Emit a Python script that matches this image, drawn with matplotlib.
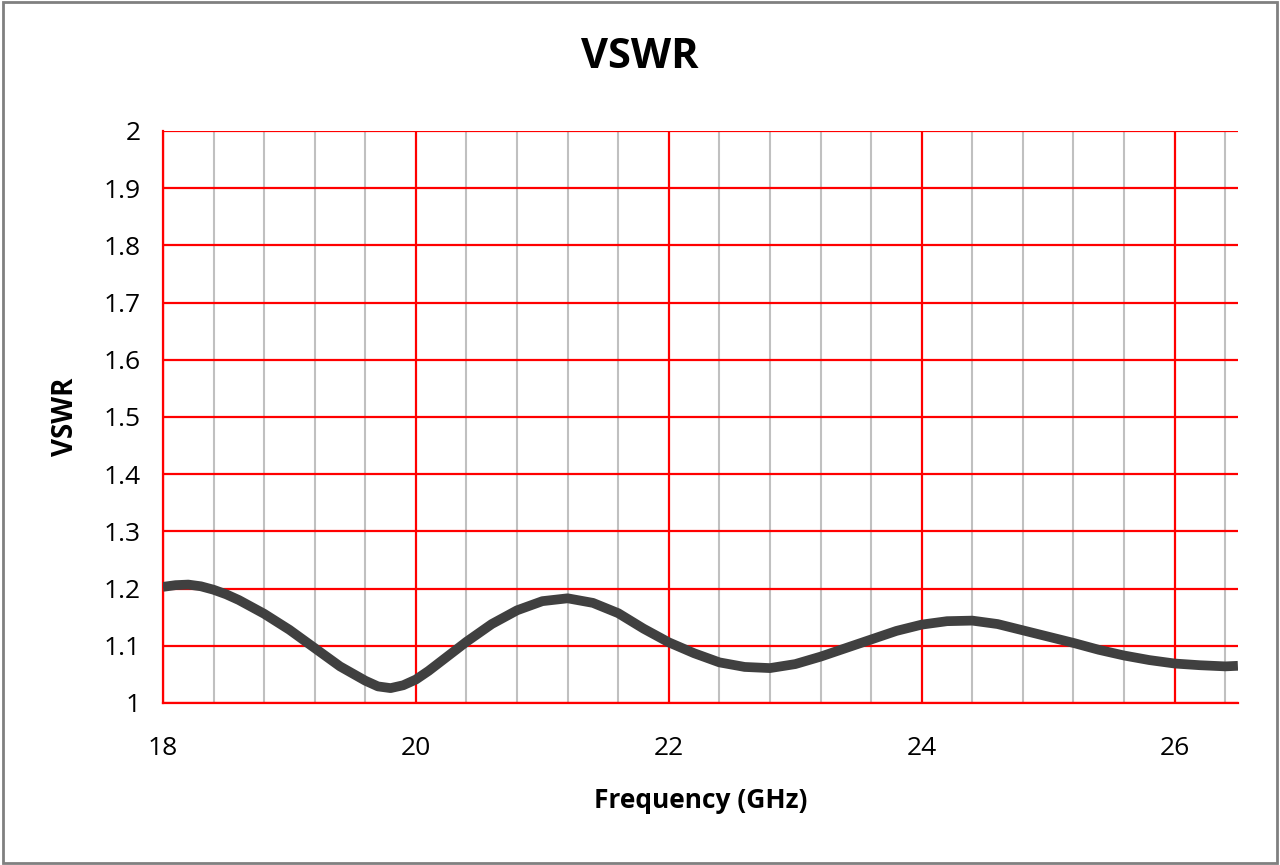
import matplotlib.pyplot as plt
from matplotlib.patches import Rectangle
import numpy as np

# VSWR
freq = [18.0, 18.1, 18.2, 18.3, 18.4, 18.5, 18.6, 18.8, 19.0, 19.2, 19.4, 19.6,
        19.7, 19.8, 19.9, 20.0, 20.1, 20.2, 20.4, 20.6, 20.8, 21.0, 21.2, 21.4,
        21.6, 21.8, 22.0, 22.2, 22.4, 22.6, 22.8, 23.0, 23.2, 23.4, 23.6, 23.8,
        24.0, 24.2, 24.4, 24.6, 24.8, 25.0, 25.2, 25.4, 25.6, 25.8, 26.0, 26.2,
        26.4, 26.5]
vswr = [1.203, 1.206, 1.207, 1.204, 1.198, 1.190, 1.180, 1.156, 1.128, 1.096, 1.064, 1.039,
        1.029, 1.026, 1.031, 1.041, 1.056, 1.073, 1.107, 1.138, 1.162, 1.178, 1.183, 1.175,
        1.157, 1.130, 1.106, 1.087, 1.071, 1.063, 1.061, 1.068, 1.081, 1.096, 1.111, 1.126,
        1.137, 1.143, 1.144, 1.138, 1.127, 1.116, 1.105, 1.093, 1.083, 1.075, 1.069, 1.066,
        1.064, 1.065]

x_major = [18, 20, 22, 24, 26]
y_major = [1, 1.1, 1.2, 1.3, 1.4, 1.5, 1.6, 1.7, 1.8, 1.9, 2]
y_labels = ['1', '1.1', '1.2', '1.3', '1.4', '1.5', '1.6', '1.7', '1.8', '1.9', '2']

plt.rcParams['font.family'] = ['Open Sans', 'DejaVu Sans']

fig = plt.figure(figsize=(12.8, 8.65), dpi=100)
ax = fig.add_axes([0.1273, 0.1873, 0.8398, 0.6613])

ax.set_xlim(18, 26.5)
ax.set_ylim(1, 2)
ax.set_xticks(x_major)
ax.set_xticks(np.arange(18, 26.5, 0.4), minor=True)
ax.set_yticks(y_major)
ax.set_yticklabels(y_labels)

ax.grid(which='minor', axis='x', color='#c0c0c0', lw=1.5, zorder=1)
ax.grid(which='major', axis='x', color='#ff0000', lw=1.6, zorder=2)
ax.grid(which='major', axis='y', color='#ff0000', lw=1.6, zorder=2)
ax.set_axisbelow(True)

for s in ['top', 'right']:
    ax.spines[s].set_visible(False)
for s in ['left', 'bottom']:
    ax.spines[s].set_color('#ff0000')
    ax.spines[s].set_linewidth(1.6)

ax.tick_params(which='both', length=0, labelsize=19, colors='black')
ax.tick_params(axis='x', pad=24)
ax.tick_params(axis='y', pad=16)

ax.plot(freq, vswr, color='#404040', lw=7, solid_joinstyle='round',
        solid_capstyle='butt', zorder=5)

fig.text(0.5, 1 - 57 / 865, 'VSWR', fontsize=30, fontweight='bold',
         ha='center', va='center')
ax.set_xlabel('Frequency (GHz)', fontsize=19, fontweight='bold', va='center')
ax.xaxis.set_label_coords(0.5, -0.1696)
ax.set_ylabel('VSWR', fontsize=20, fontweight='bold', va='center')
ax.yaxis.set_label_coords(-0.0902, 0.5)

fig.patches.append(Rectangle((0.002, 0.002), 0.996, 0.996, transform=fig.transFigure,
                             fill=False, edgecolor='#808080', lw=2))

fig.savefig('out.png', dpi=100)
